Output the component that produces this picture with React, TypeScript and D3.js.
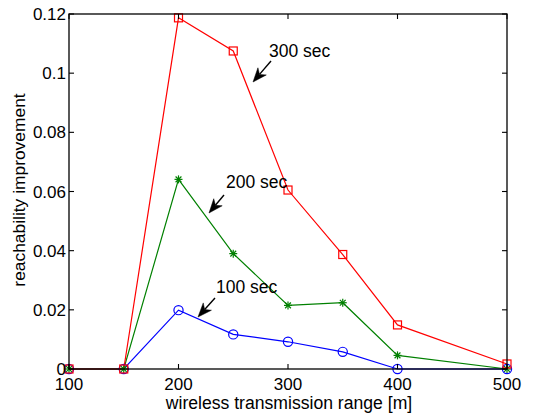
import React from "react";
import * as d3 from "d3";

const ranges = [100, 150, 200, 250, 300, 350, 400, 500];
const series100 = [0, 0, 0.0199, 0.0117, 0.0092, 0.0058, 0, 0];
const series200 = [0, 0, 0.0641, 0.039, 0.0215, 0.0224, 0.0046, 0];
const series300 = [0, 0, 0.1187, 0.1075, 0.0605, 0.0387, 0.0149, 0.0017];
const xTicks = [100, 200, 300, 400, 500];
const yTicks = [0, 0.02, 0.04, 0.06, 0.08, 0.1, 0.12];
const yTickLabels = ["0", "0.02", "0.04", "0.06", "0.08", "0.1", "0.12"];

const W = 540, H = 414;
const L = 69, R = 507, T = 14, B = 369;
const font = "'Liberation Sans', Arial, Helvetica, sans-serif";

const x = d3.scaleLinear().domain([100, 500]).range([L, R]);
const y = d3.scaleLinear().domain([0, 0.12]).range([B, T]);

const line = d3.line<number>().x((_, i) => x(ranges[i])).y((d) => y(d));

function Arrow({ x1, y1, x2, y2 }: { x1: number; y1: number; x2: number; y2: number }) {
  const ang = Math.atan2(y2 - y1, x2 - x1);
  const len = 14, wid = 5.5, back = 10;
  const bx = x2 - Math.cos(ang) * len, by = y2 - Math.sin(ang) * len;
  const nx = -Math.sin(ang), ny = Math.cos(ang);
  const cx = x2 - Math.cos(ang) * back, cy = y2 - Math.sin(ang) * back;
  const p = `M${x2},${y2} L${bx + nx * wid},${by + ny * wid} L${cx},${cy} L${bx - nx * wid},${by - ny * wid} Z`;
  return (
    <g>
      <line x1={x1} y1={y1} x2={cx} y2={cy} stroke="#000" strokeWidth={1.4} />
      <path d={p} fill="#000" stroke="#000" strokeWidth={0.5} strokeLinejoin="miter" />
    </g>
  );
}

export default function App() {
  return (
    <svg width={W} height={H} style={{ position: "absolute", left: 0, top: 0, background: "#fff" }}>
      <rect x={0} y={0} width={W} height={H} fill="#fff" />
      {/* series lines */}
      <path d={line(series100) || ""} fill="none" stroke="#0000ff" strokeWidth={1.2} />
      <path d={line(series200) || ""} fill="none" stroke="#008000" strokeWidth={1.2} />
      <path d={line(series300) || ""} fill="none" stroke="#ff0000" strokeWidth={1.2} />
      {/* markers */}
      {series100.map((d, i) => (
        <circle key={"c" + i} cx={x(ranges[i])} cy={y(d)} r={4.6} fill="none" stroke="#0000ff" strokeWidth={1.2} />
      ))}
      {series200.map((d, i) => {
        const cx = x(ranges[i]), cy = y(d), s = 4, s2 = 2.9;
        return (
          <g key={"a" + i} stroke="#008000" strokeWidth={1.2}>
            <line x1={cx - s} y1={cy} x2={cx + s} y2={cy} />
            <line x1={cx} y1={cy - s} x2={cx} y2={cy + s} />
            <line x1={cx - s2} y1={cy - s2} x2={cx + s2} y2={cy + s2} />
            <line x1={cx - s2} y1={cy + s2} x2={cx + s2} y2={cy - s2} />
          </g>
        );
      })}
      {series300.map((d, i) => (
        <rect key={"s" + i} x={x(ranges[i]) - 4} y={y(d) - 4} width={8} height={8} fill="none" stroke="#ff0000" strokeWidth={1.2} />
      ))}
      {/* axes box */}
      <rect x={L} y={T} width={R - L} height={B - T} fill="none" stroke="#000" strokeWidth={1.3} />
      {xTicks.map((t) => (
        <g key={"xt" + t}>
          <line x1={x(t)} y1={B} x2={x(t)} y2={B - 5} stroke="#000" strokeWidth={1.1} />
          <line x1={x(t)} y1={T} x2={x(t)} y2={T + 5} stroke="#000" strokeWidth={1.1} />
          <text x={x(t)} y={389.5} textAnchor="middle" fontFamily={font} fontSize={17} fill="#000">{t}</text>
        </g>
      ))}
      {yTicks.map((t, i) => (
        <g key={"yt" + t}>
          <line x1={L} y1={y(t)} x2={L + 5} y2={y(t)} stroke="#000" strokeWidth={1.1} />
          <line x1={R} y1={y(t)} x2={R - 5} y2={y(t)} stroke="#000" strokeWidth={1.1} />
          <text x={L - 3} y={y(t) + (t === 0 ? 5.5 : 6)} textAnchor="end" fontFamily={font} fontSize={17} fill="#000">{yTickLabels[i]}</text>
        </g>
      ))}
      <text x={(L + R) / 2 + 1} y={409} textAnchor="middle" fontFamily={font} fontSize={17.6} fill="#000">wireless transmission range [m]</text>
      <text transform={`translate(25,190) rotate(-90)`} textAnchor="middle" fontFamily={font} fontSize={17.4} fill="#000">reachability improvement</text>
      {/* annotations */}
      <text x={269} y={57} fontFamily={font} fontSize={17.5} fill="#000">300 sec</text>
      <Arrow x1={271} y1={61} x2={253} y2={82} />
      <text x={226} y={188} fontFamily={font} fontSize={17.5} fill="#000">200 sec</text>
      <Arrow x1={224} y1={195} x2={209} y2={213} />
      <text x={216} y={293} fontFamily={font} fontSize={17.5} fill="#000">100 sec</text>
      <Arrow x1={215} y1={298} x2={198} y2={317} />
    </svg>
  );
}
